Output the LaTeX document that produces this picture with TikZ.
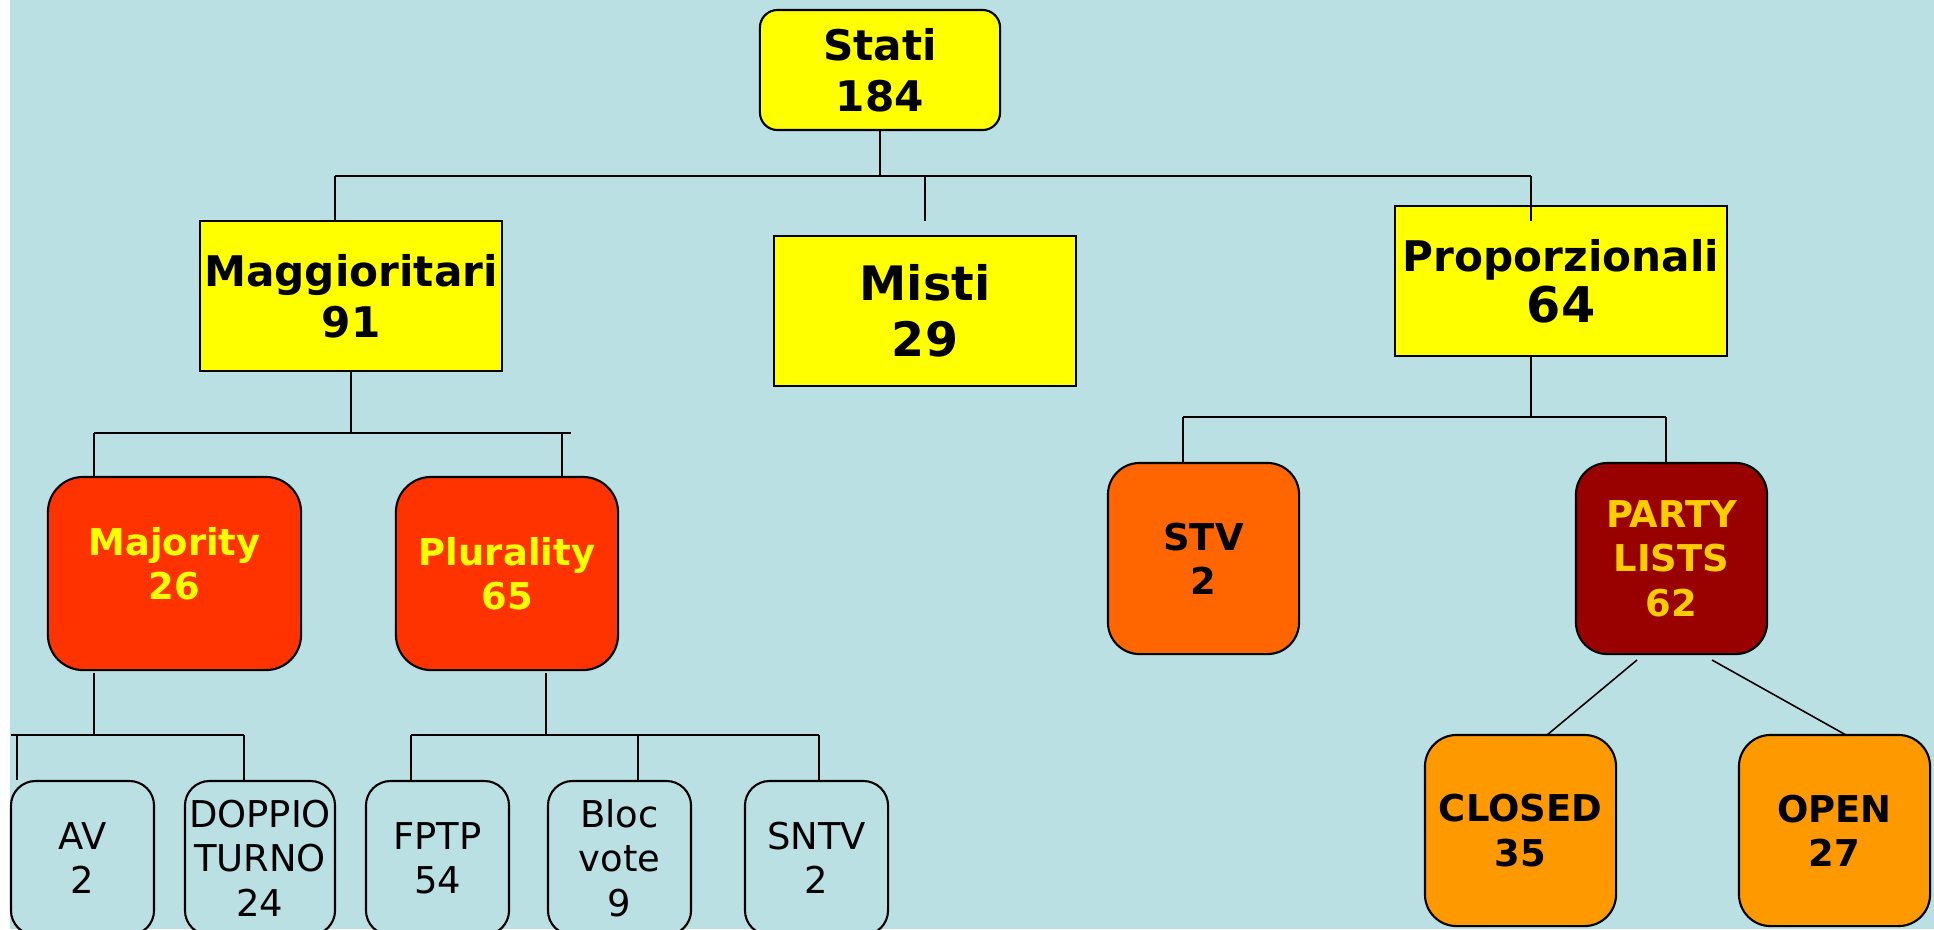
\documentclass[tikz,border=0pt]{standalone}
\usepackage{fontspec}
\setmainfont{DejaVu Sans}
\usetikzlibrary{positioning}

\definecolor{sfondo}{RGB}{187,224,227}
\definecolor{giallo}{RGB}{255,255,0}
\definecolor{rosso}{RGB}{255,51,0}
\definecolor{arancio}{RGB}{255,102,0}
\definecolor{bordeaux}{RGB}{153,0,0}
\definecolor{ambra}{RGB}{255,153,0}
\definecolor{oro}{RGB}{255,204,0}

\begin{document}
\begin{tikzpicture}[x=0.01cm, y=-0.01cm,
				famiglia/.style={rectangle, draw, line width=0.6pt, fill=giallo, inner sep=0pt, align=center, font=\bfseries\fontsize{12}{14.4}\selectfont},
				formula/.style={rectangle, draw, line width=0.6pt, rounded corners=9pt, inner sep=0pt, align=center, minimum width=1.91cm, minimum height=1.91cm, font=\bfseries\fontsize{10.5}{12.6}\selectfont},
				sistema/.style={rectangle, draw, line width=0.6pt, rounded corners=7pt, fill=sfondo, inner sep=0pt, align=center, minimum width=1.43cm, minimum height=1.54cm, font=\fontsize{10.5}{12.6}\selectfont},
				ramo/.style={line width=0.45pt}
				]
				\useasboundingbox (0,0) rectangle (1934,929);
				\clip (0,0) rectangle (1934,929);
				\fill[white] (0,0) rectangle (10,929);
				\fill[sfondo] (10,0) rectangle (1934,929);
				
				% livello 1 e 2
				\node[famiglia, rounded corners=5pt, minimum width=2.4cm, minimum height=1.2cm] (stati) at (880,70) {Stati\\184};
				\node[famiglia, minimum width=3.02cm, minimum height=1.5cm] (magg) at (351,296) {Maggioritari\\91};
				\node[famiglia, minimum width=3.01cm, minimum height=1.5cm, font=\bfseries\fontsize{13.5}{15.8}\selectfont] (misti) at (925,311) {Misti\\29};
				\node[famiglia, minimum width=3.32cm, minimum height=1.5cm] (prop) at (1561,281) {Proporzionali\\{\fontsize{14}{15.8}\selectfont 64}};
				
				% livello 3
				\node[formula, fill=rosso, text=giallo, rounded corners=10pt, minimum width=2.53cm, minimum height=1.93cm] (majority) at (174.5,573.5) {Majority\\26\\[-6.9pt]};
				\node[formula, fill=rosso, text=giallo, rounded corners=10pt, minimum width=2.22cm, minimum height=1.93cm] (plurality) at (507,573.5) {Plurality\\65};
				\node[formula, fill=arancio] (stv) at (1203.5,558.5) {STV\\2};
				\node[formula, fill=bordeaux, text=oro] (party) at (1671.5,558.5) {PARTY\\LISTS\\62};
				
				% livello 4
				\node[formula, fill=ambra] (closed) at (1520.5,830.5) {CLOSED\\35};
				\node[formula, fill=ambra] (open) at (1834.5,830.5) {OPEN\\27};
				\node[sistema] (av) at (82.5,858) {AV\\2};
				\node[sistema, minimum width=1.5cm] (doppio) at (260,858) {DOPPIO\\TURNO\\24};
				\node[sistema] (fptp) at (437.5,858) {FPTP\\54};
				\node[sistema] (bloc) at (619.5,858) {Bloc\\vote\\9};
				\node[sistema] (sntv) at (816.5,858) {SNTV\\2};
				
				% collegamenti
				\coordinate (barSx) at (335,176);
				\coordinate (barDx) at (1531,176);
				\coordinate (mistiTop) at (925,221);
				\coordinate (propTop) at (1531,221);
				\draw[ramo] (barSx) -- (barDx);
				\draw[ramo] (stati.south) -- (stati.south |- barSx);
				\draw[ramo] (barSx) -- (barSx |- magg.north);
				\draw[ramo] (mistiTop |- barSx) -- (mistiTop);
				\draw[ramo] (barDx) -- (propTop);
				
				\coordinate (magSx) at (94,433);
				\coordinate (magDx) at (571,433);
				\draw[ramo] (magg.south) -- (magg.south |- magSx);
				\draw[ramo] (magSx) -- (magDx);
				\draw[ramo] (magSx) -- (magSx |- majority.north);
				\draw[ramo] (562,433) -- (562,433 |- plurality.north);
				
				\coordinate (majSx) at (11,735);
				\coordinate (majDx) at (244,735);
				\draw[ramo] (94,673) -- (94,735);
				\draw[ramo] (majSx) -- (majDx);
				\draw[ramo] (17,735) -- (17,735 |- av.north);
				\draw[ramo] (majDx) -- (majDx |- doppio.north);
				
				\coordinate (pluSx) at (411,735);
				\coordinate (pluDx) at (819,735);
				\draw[ramo] (546,673) -- (546,735);
				\draw[ramo] (pluSx) -- (pluDx);
				\draw[ramo] (pluSx) -- (pluSx |- fptp.north);
				\draw[ramo] (638,735) -- (638,735 |- bloc.north);
				\draw[ramo] (pluDx) -- (pluDx |- sntv.north);
				
				\coordinate (propSx) at (1183,417);
				\coordinate (propDx) at (1666,417);
				\draw[ramo] (1531,356) -- (1531,417);
				\draw[ramo] (propSx) -- (propDx);
				\draw[ramo] (propSx) -- (propSx |- stv.north);
				\draw[ramo] (propDx) -- (propDx |- party.north);
				
				\draw[ramo] (1637,660) -- (1547,735);
				\draw[ramo] (1712,660) -- (1846,735);
			\end{tikzpicture}
\end{document}
